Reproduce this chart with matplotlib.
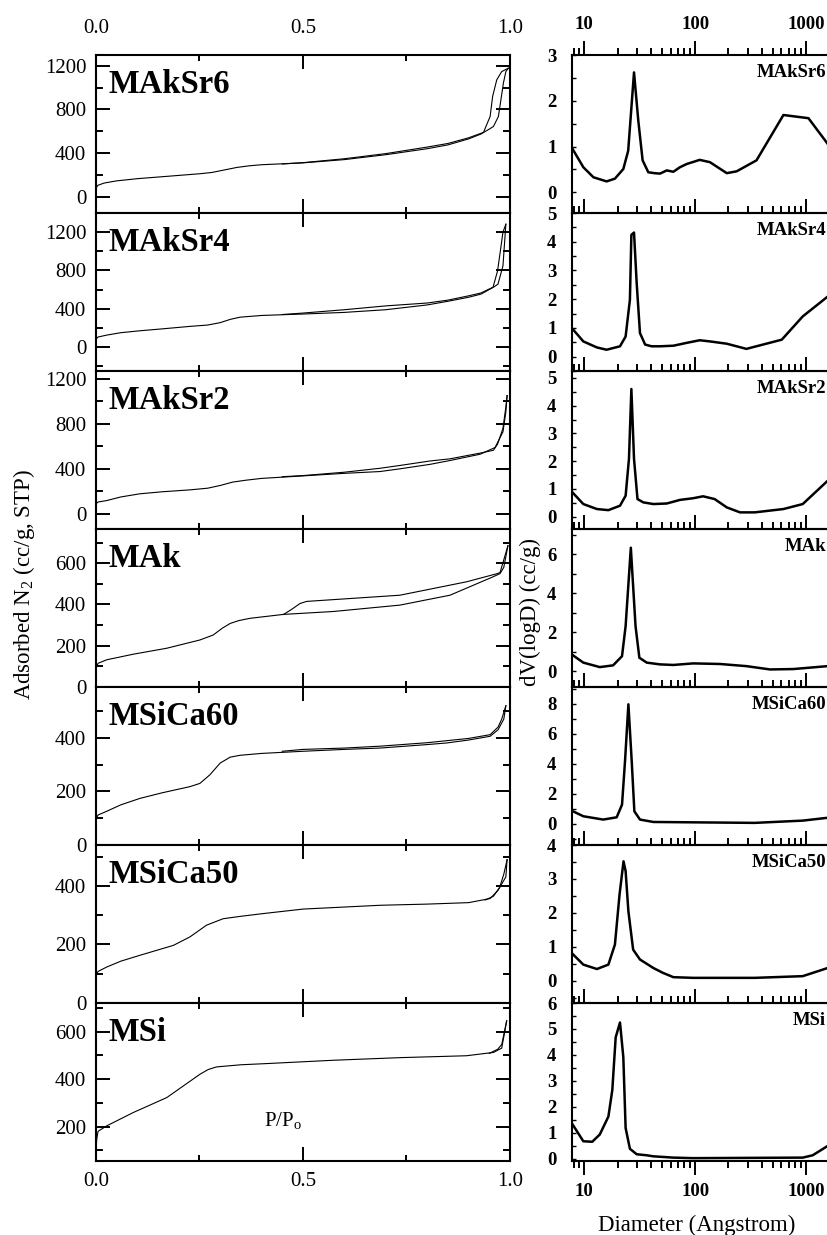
"""
isotherms.py
"""

import numpy as np
import matplotlib

matplotlib.use("Agg")
import matplotlib.pyplot as plt
from matplotlib.ticker import MultipleLocator, LogLocator, NullFormatter

plt.rcParams["font.family"] = ["Liberation Serif", "DejaVu Serif"]
plt.rcParams["mathtext.fontset"] = "custom"
plt.rcParams["mathtext.rm"] = "Liberation Serif"

samples = ["MAkSr6", "MAkSr4", "MAkSr2", "MAk", "MSiCa60", "MSiCa50", "MSi"]

# --- N2 isotherms (P/Po, cc/g STP): adsorption and desorption branches ---
maksr6_ads_p = [0, 0.005, 0.02, 0.05, 0.1, 0.15, 0.2, 0.25, 0.28, 0.31, 0.34, 0.37, 0.4, 0.5,
                0.6, 0.7, 0.8, 0.85, 0.9, 0.93, 0.95, 0.96, 0.972, 0.978, 0.984, 0.99, 0.996]
maksr6_ads_v = [80, 105, 125, 145, 165, 180, 195, 210, 222, 245, 268, 283, 293, 310,
                340, 385, 440, 475, 530, 575, 620, 644, 736, 888, 1041, 1148, 1179]
maksr6_des_p = [0.996, 0.98, 0.968, 0.958, 0.952, 0.936, 0.9, 0.85, 0.8, 0.7, 0.6, 0.5, 0.45]
maksr6_des_v = [1179, 1148, 1072, 919, 736, 590, 540, 488, 455, 395, 348, 312, 300]

maksr4_ads_p = [0, 0.005, 0.026, 0.06, 0.106, 0.16, 0.227, 0.27, 0.3, 0.325, 0.348, 0.4, 0.5,
                0.6, 0.7, 0.8, 0.85, 0.9, 0.93, 0.96, 0.971, 0.983, 0.99]
maksr4_ads_v = [83, 105, 125, 150, 170, 190, 216, 230, 255, 290, 312, 330, 345,
                362, 390, 440, 478, 520, 553, 625, 657, 848, 1283]
maksr4_des_p = [0.99, 0.983, 0.97, 0.959, 0.93, 0.9, 0.85, 0.8, 0.7, 0.6, 0.5, 0.45]
maksr4_des_v = [1283, 1200, 796, 625, 565, 535, 490, 460, 430, 390, 355, 340]

maksr2_ads_p = [0, 0.005, 0.026, 0.06, 0.106, 0.16, 0.227, 0.27, 0.3, 0.33, 0.36, 0.4, 0.49,
                0.6, 0.686, 0.734, 0.807, 0.855, 0.928, 0.964, 0.983, 0.99, 0.993]
maksr2_ads_v = [89, 105, 118, 150, 178, 196, 213, 228, 252, 282, 298, 315, 335,
                360, 376, 400, 440, 474, 530, 590, 729, 906, 1052]
maksr2_des_p = [0.993, 0.99, 0.983, 0.97, 0.96, 0.928, 0.855, 0.807, 0.734, 0.686, 0.6, 0.5, 0.45]
maksr2_des_v = [1052, 950, 760, 620, 565, 540, 489, 470, 430, 405, 370, 340, 330]

mak_ads_p = [0, 0.005, 0.026, 0.09, 0.171, 0.251, 0.283, 0.305, 0.324, 0.345, 0.372, 0.453,
             0.573, 0.734, 0.855, 0.96, 0.976, 0.985, 0.995]
mak_ads_v = [92, 115, 132, 159, 188, 228, 252, 285, 308, 322, 333, 352,
             366, 397, 445, 535, 550, 580, 685]
mak_des_p = [0.995, 0.976, 0.968, 0.895, 0.734, 0.509, 0.493, 0.47, 0.453]
mak_des_v = [685, 555, 549, 510, 445, 415, 405, 373, 352]

msica60_ads_p = [0, 0.005, 0.026, 0.06, 0.106, 0.16, 0.227, 0.251, 0.275, 0.3, 0.324, 0.348,
                 0.4, 0.5, 0.6, 0.686, 0.8, 0.847, 0.9, 0.952, 0.971, 0.985, 0.99]
msica60_ads_v = [98, 112, 126, 150, 174, 195, 218, 230, 262, 306, 328, 335,
                 342, 350, 357, 362, 375, 381, 392, 406, 430, 470, 520]
msica60_des_p = [0.99, 0.98, 0.971, 0.952, 0.9, 0.8, 0.686, 0.6, 0.5, 0.45]
msica60_des_v = [520, 470, 440, 412, 398, 382, 369, 362, 357, 350]

msica50_ads_p = [0, 0.005, 0.026, 0.06, 0.106, 0.187, 0.227, 0.267, 0.307, 0.348, 0.4, 0.5,
                 0.6, 0.686, 0.8, 0.9, 0.952, 0.971, 0.99, 0.993]
msica50_ads_v = [95, 108, 123, 143, 163, 197, 226, 266, 288, 296, 305, 321,
                 328, 334, 338, 343, 357, 385, 431, 490]
msica50_des_p = [0.993, 0.985, 0.975, 0.96, 0.94]
msica50_des_v = [490, 440, 395, 365, 352]

msi_ads_p = [0, 0.002, 0.005, 0.026, 0.09, 0.171, 0.211, 0.251, 0.271, 0.291, 0.35, 0.412,
             0.573, 0.734, 0.895, 0.96, 0.98, 0.992]
msi_ads_v = [104, 150, 180, 203, 259, 322, 371, 420, 440, 451, 460, 465,
             479, 490, 498, 512, 530, 645]
msi_des_p = [0.992, 0.98, 0.97, 0.95]
msi_des_v = [645, 545, 525, 508]

# --- pore size distributions (Angstrom, dV/dlogD) ---
maksr6_d = [7.7, 9.8, 12.1, 15.9, 18.9, 22.5, 24.9, 28.1, 30.7, 33.6, 37.8, 43, 48.2, 55.5,
            63.6, 73, 84, 110, 136, 193, 237, 358, 626, 1053, 1570, 1800]
maksr6_dv = [0.98, 0.55, 0.33, 0.24, 0.30, 0.51, 0.91, 2.62, 1.57, 0.70, 0.44, 0.42, 0.41, 0.48,
             0.45, 0.55, 0.62, 0.71, 0.66, 0.42, 0.46, 0.70, 1.69, 1.62, 1.06, 0.8]

maksr4_d = [7.7, 9.8, 13.0, 15.9, 21.0, 23.6, 25.8, 26.6, 28.1, 29.7, 31.8, 35.4, 40.5, 48.2,
            63.6, 84, 110, 136, 193, 290, 605, 935, 1570, 1800]
maksr4_dv = [1.0, 0.53, 0.32, 0.24, 0.36, 0.70, 1.98, 4.24, 4.32, 2.56, 0.82, 0.42, 0.36, 0.36,
             0.38, 0.48, 0.57, 0.53, 0.45, 0.27, 0.59, 1.40, 2.09, 2.3]

maksr2_d = [7.7, 9.8, 13.0, 16.5, 21.0, 23.6, 25.3, 26.6, 28.1, 30.2, 34.1, 42, 55.5, 73,
            96, 118, 150, 193, 254, 345, 626, 935, 1570, 1800]
maksr2_dv = [0.9, 0.45, 0.27, 0.23, 0.39, 0.75, 2.08, 4.6, 2.08, 0.63, 0.51, 0.45, 0.47, 0.6,
             0.66, 0.73, 0.63, 0.33, 0.15, 0.15, 0.27, 0.45, 1.29, 1.6]

mak_d = [7.7, 9.8, 13.8, 18.2, 21.9, 23.6, 26.3, 29.0, 31.4, 36.6, 48, 63.6, 96, 167,
         290, 474, 768, 1570, 1800]
mak_dv = [0.87, 0.45, 0.22, 0.31, 0.78, 2.32, 6.34, 2.32, 0.7, 0.45, 0.36, 0.33, 0.41, 0.38,
          0.27, 0.1, 0.12, 0.27, 0.3]

msica60_d = [7.7, 9.8, 14.8, 19.6, 21.9, 23.3, 25.0, 26.8, 28.3, 31.8, 42, 84, 345, 935,
             1570, 1800]
msica60_dv = [0.88, 0.51, 0.29, 0.44, 1.28, 4.15, 7.95, 4.15, 0.84, 0.29, 0.13, 0.11, 0.07, 0.22,
              0.41, 0.5]

msica50_d = [7.7, 9.8, 13.0, 16.5, 18.9, 20.8, 22.6, 23.6, 25.0, 27.6, 31.8, 42, 51, 63.6,
             96, 345, 935, 1570, 1800]
msica50_dv = [0.82, 0.48, 0.35, 0.48, 1.07, 2.54, 3.52, 3.23, 2.05, 0.92, 0.63, 0.38, 0.24, 0.11,
              0.09, 0.09, 0.14, 0.38, 0.5]

msi_d = [7.7, 9.8, 11.8, 13.8, 16.5, 17.9, 19.2, 21.0, 22.5, 23.6, 25.8, 29.7, 36.6, 42,
         63.6, 96, 935, 1150, 1570, 1800]
msi_dv = [1.38, 0.68, 0.66, 0.94, 1.63, 2.65, 4.68, 5.25, 3.92, 1.19, 0.39, 0.18, 0.14, 0.1,
          0.05, 0.03, 0.05, 0.14, 0.5, 0.7]

# axis settings per panel
iso_ylims = [(-150, 1300), (-250, 1400), (-135, 1270), (0, 766), (0, 590), (0, 540), (55, 720)]
iso_major = [400, 400, 400, 200, 200, 200, 200]
psd_ylims = [(-0.45, 3), (-0.5, 5), (-0.45, 5.25), (-0.8, 7.3), (-1.4, 9.1), (-0.65, 4), (-0.08, 6)]
psd_major = [1, 1, 1, 2, 2, 1, 1]
p_ticks = [0.0, 0.5, 1.0]
d_ticks = [10, 100, 1000]

iso_ads = [(maksr6_ads_p, maksr6_ads_v), (maksr4_ads_p, maksr4_ads_v),
           (maksr2_ads_p, maksr2_ads_v), (mak_ads_p, mak_ads_v),
           (msica60_ads_p, msica60_ads_v), (msica50_ads_p, msica50_ads_v),
           (msi_ads_p, msi_ads_v)]
iso_des = [(maksr6_des_p, maksr6_des_v), (maksr4_des_p, maksr4_des_v),
           (maksr2_des_p, maksr2_des_v), (mak_des_p, mak_des_v),
           (msica60_des_p, msica60_des_v), (msica50_des_p, msica50_des_v),
           (msi_des_p, msi_des_v)]
psd = [(maksr6_d, maksr6_dv), (maksr4_d, maksr4_dv), (maksr2_d, maksr2_dv), (mak_d, mak_dv),
       (msica60_d, msica60_dv), (msica50_d, msica50_dv), (msi_d, msi_dv)]

W, H = 828, 1235
fig = plt.figure(figsize=(W / 100, H / 100), dpi=100)

top0, ph = 55, 158
n = len(samples)
rx0, rx1 = 571.7, 845

for i, name in enumerate(samples):
    bottom = (H - (top0 + ph * (i + 1))) / H

    # ---- isotherm panel ----
    ax = fig.add_axes([96 / W, bottom, 414 / W, ph / H])
    ax.plot(*iso_ads[i], color="black", lw=0.8)
    ax.plot(*iso_des[i], color="black", lw=0.8)
    ax.set_xlim(0, 1.0)
    ax.set_ylim(*iso_ylims[i])
    ax.set_xticks(p_ticks)
    ax.set_xticklabels([f"{p:.1f}" for p in p_ticks])
    ax.xaxis.set_minor_locator(MultipleLocator(0.25))
    ax.yaxis.set_major_locator(MultipleLocator(iso_major[i]))
    ax.yaxis.set_minor_locator(MultipleLocator(iso_major[i] / 2))
    ax.tick_params(which="both", direction="in", top=True, right=True, width=1.4)
    ax.tick_params(axis="y", which="major", length=10, labelsize=15, pad=7)
    ax.tick_params(axis="y", which="minor", length=5)
    ax.tick_params(axis="x", which="major", length=10, labelsize=15)
    ax.tick_params(axis="x", which="minor", length=4.5)
    ax.tick_params(axis="x", labelbottom=(i == n - 1), labeltop=(i == 0))
    if i == 0:
        ax.tick_params(axis="x", pad=12)
    else:
        ax.tick_params(axis="x", pad=8)
    for s in ax.spines.values():
        s.set_linewidth(1.5)
    ax.text(0.029, 0.758, name, transform=ax.transAxes, fontsize=23.5,
            fontweight="bold", va="baseline", ha="left")
    if i == n - 1:
        ax.text(0.452, 0.253, "P/P$_\\mathrm{o}$", transform=ax.transAxes,
                fontsize=15, ha="center", va="center")

    # ---- pore size panel ----
    axr = fig.add_axes([rx0 / W, bottom, (rx1 - rx0) / W, ph / H])
    axr.patch.set_alpha(0)
    axr.plot(*psd[i], color="black", lw=1.8)
    axr.set_xscale("log")
    axr.set_xlim(7.7, 2250)
    axr.set_ylim(*psd_ylims[i])
    axr.set_xticks(d_ticks)
    axr.set_xticklabels([str(d) for d in d_ticks], fontweight="bold")
    axr.xaxis.set_minor_locator(LogLocator(base=10, subs=np.arange(2, 10)))
    axr.xaxis.set_minor_formatter(NullFormatter())
    yt = np.arange(0, psd_ylims[i][1] + 0.01, psd_major[i])
    axr.set_yticks(yt)
    axr.set_yticklabels([f"{v:g}" for v in yt], fontweight="bold")
    axr.yaxis.set_minor_locator(MultipleLocator(psd_major[i] / 2))
    axr.tick_params(axis="x", which="both", direction="out", top=True,
                    bottom=(i == n - 1), labeltop=(i == 0),
                    labelbottom=(i == n - 1), width=1.4, labelsize=13.5, pad=6)
    axr.tick_params(axis="x", which="major", length=10)
    axr.tick_params(axis="x", which="minor", length=5)
    axr.tick_params(axis="y", which="both", direction="in", left=True, right=False,
                    width=1.0, length=3, labelsize=13.5, pad=11)
    for s in axr.spines.values():
        s.set_linewidth(1.5)
    axr.text((826 - rx0) / (rx1 - rx0), 0.861, name, transform=axr.transAxes,
             fontsize=13.5, fontweight="bold", ha="right", va="baseline")

fig.text(24 / W, 1 - 585 / H, "Adsorbed N$_2$ (cc/g, STP)", rotation=90,
         ha="center", va="center", fontsize=16.5)
fig.text(530 / W, 1 - 612 / H, "dV(logD) (cc/g)", rotation=90,
         ha="center", va="center", fontsize=16.5)
fig.text(697 / W, 1 - 1225 / H, "Diameter (Angstrom)", ha="center", va="center",
         fontsize=16.5)

fig.savefig("out.png", dpi=100)
plt.close(fig)
